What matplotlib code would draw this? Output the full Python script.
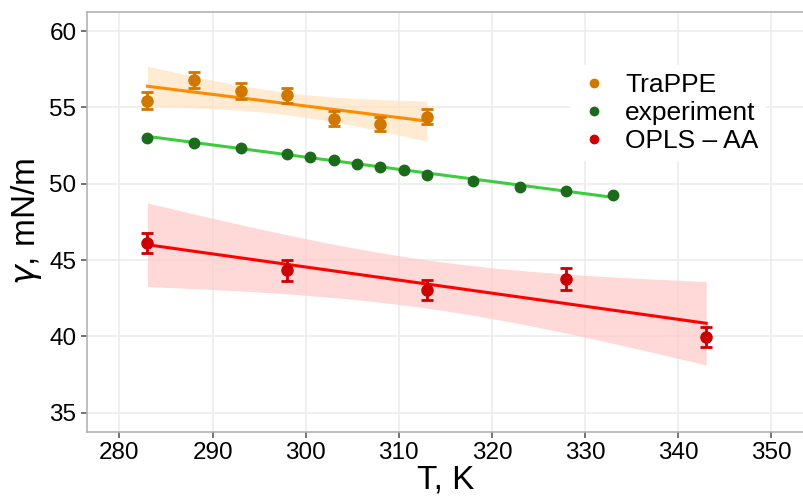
import numpy as np
import matplotlib
matplotlib.use("Agg")
import matplotlib.pyplot as plt
from matplotlib.lines import Line2D

plt.rcParams['font.family'] = ['Liberation Sans', 'DejaVu Sans']

# TraPPE simulation
T_trappe = [283, 288, 293, 298, 303, 308, 313]
g_trappe = [55.43, 56.8, 56.08, 55.8, 54.26, 53.93, 54.4]
e_trappe = [0.55, 0.5, 0.5, 0.5, 0.5, 0.45, 0.5]

# experiment
T_exp = [283, 288, 293, 298, 300.5, 303, 305.5, 308, 310.5, 313, 318, 323, 328, 333]
g_exp = [53.0, 52.69, 52.36, 51.97, 51.78, 51.58, 51.3, 51.12, 50.93, 50.6, 50.2, 49.8, 49.5, 49.23]

# OPLS-AA simulation
T_opls = [283, 298, 313, 328, 343]
g_opls = [46.1, 44.33, 43.03, 43.75, 39.96]
e_opls = [0.65, 0.7, 0.65, 0.7, 0.65]

# t quantiles (0.975) for the lm confidence bands
t_q = {5: 2.571, 3: 3.182, 12: 2.179}


def lm_band(x, y):
    x = np.asarray(x, float)
    y = np.asarray(y, float)
    n = len(x)
    b, a = np.polyfit(x, y, 1)
    res = y - (a + b * x)
    s = np.sqrt(np.sum(res ** 2) / (n - 2))
    xs = np.linspace(x.min(), x.max(), 100)
    fit = a + b * xs
    se = s * np.sqrt(1.0 / n + (xs - x.mean()) ** 2 / np.sum((x - x.mean()) ** 2))
    return xs, fit, fit - t_q[n - 2] * se, fit + t_q[n - 2] * se


fig = plt.figure(figsize=(8.04, 4.97), dpi=100)
ax = fig.add_axes([0.108, 0.131, 0.892, 0.845])

# TraPPE
xs, fit, lo, hi = lm_band(T_trappe, g_trappe)
ax.fill_between(xs, lo, hi, color='#ffe4c4', alpha=0.75, lw=0, zorder=2)
ax.plot(xs, fit, color='#ff8c00', lw=2.2, zorder=3)
ax.errorbar(T_trappe, g_trappe, yerr=e_trappe, fmt='o', color='#d07700', ms=8,
            capsize=4, capthick=2, elinewidth=2, zorder=4)

# experiment
xs, fit, lo, hi = lm_band(T_exp, g_exp)
ax.plot(xs, fit, color='#3dcc3d', lw=2.2, zorder=3)
ax.plot(T_exp, g_exp, 'o', color='#1b6b1b', ms=7.5, zorder=4)

# OPLS-AA
xs, fit, lo, hi = lm_band(T_opls, g_opls)
ax.fill_between(xs, lo, hi, color='#ffc8c8', alpha=0.7, lw=0, zorder=2)
ax.plot(xs, fit, color='#ff0000', lw=2.2, zorder=3)
ax.errorbar(T_opls, g_opls, yerr=e_opls, fmt='o', color='#cc0000', ms=8,
            capsize=4, capthick=2, elinewidth=2, zorder=4)

ax.set_xlim(276.5, 353.5)
ax.set_ylim(33.75, 61.25)
ax.set_xticks(range(280, 351, 10))
ax.set_yticks(range(35, 61, 5))
ax.grid(True, color='#ebebeb', lw=1.1, zorder=0)
ax.set_axisbelow(True)
for sp in ax.spines.values():
    sp.set_color('#b3b3b3')
    sp.set_linewidth(1.2)
ax.tick_params(colors='#4d4d4d', labelcolor='black', labelsize=17.5, length=4, width=1.1)
ax.set_xlabel('T, K', fontsize=24, labelpad=0)
ax.set_ylabel(r'$\gamma$, mN/m', fontsize=24, labelpad=4)

handles = [
    Line2D([], [], marker='o', ls='', color='#d07700', ms=6),
    Line2D([], [], marker='o', ls='', color='#1b6b1b', ms=6),
    Line2D([], [], marker='o', ls='', color='#cc0000', ms=6),
]
leg = ax.legend(handles, ['TraPPE', 'experiment', 'OPLS – AA'], loc='upper left',
                bbox_to_anchor=(0.655, 0.905), fontsize=19, frameon=True,
                handletextpad=0.6, labelspacing=0.15, borderpad=0.3, handlelength=1.2)
leg.get_frame().set_edgecolor('none')
leg.get_frame().set_facecolor('white')
leg.get_frame().set_alpha(1)

fig.savefig('out.png', dpi=100)
